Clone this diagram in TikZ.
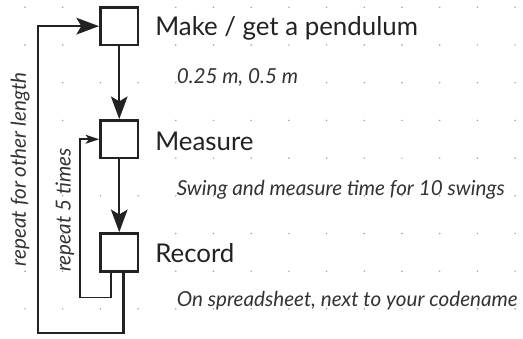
\documentclass[tikz,border=0pt]{standalone}
\usepackage{fontspec}
\setmainfont{Lato}
\usepackage{tikz}
\usetikzlibrary{arrows.meta,positioning}
\usepackage{xcolor}
\definecolor{inkdark}{HTML}{222222}
\definecolor{inknote}{HTML}{333333}
\definecolor{dotgrey}{HTML}{9A9AB4}
\tikzset{
  stepbox/.style  = {draw=inkdark, line width=2pt, rectangle, minimum size=1cm,
                     inner sep=0pt},
  steptext/.style = {inkdark, font=\fontsize{19.5}{23}\selectfont, anchor=base west,
                     inner sep=0pt},
  note/.style     = {inknote, font=\fontsize{15.6}{18}\selectfont\itshape, inner sep=0pt},
  flow/.style     = {-{Stealth[length=6mm,width=4.4mm,inset=1.3mm]}, line width=1.7pt, draw=inkdark},
  bigloop/.style  = {-{Stealth[length=6mm,width=4.4mm,inset=1.3mm]}, line width=1.7pt, draw=inkdark},
  smallloop/.style= {-{Stealth[length=3.6mm,width=2.4mm,inset=0.9mm]}, line width=1.3pt, draw=inkdark},
}

\begin{document}
\begin{tikzpicture}[x=1cm,y=1cm]
\useasboundingbox (-0.663,0.194) rectangle (13.21,-8.772);
% dot grid
\foreach \i in {0,...,13}
  \foreach \j in {0,...,8}
    \fill[dotgrey] (\i,-\j) circle (0.022);
% steps
\node[stepbox] (make)    at (2.5,-0.5) {};
\node[stepbox] (measure) at (2.5,-3.5) {};
\node[stepbox] (record)  at (2.5,-6.5) {};
\node[steptext] (maketxt)    at (3.45,-0.735) {Make / get a pendulum};
\node[steptext] (measuretxt) at (3.45,-3.79) {Measure};
\node[steptext] (recordtxt)  at (3.45,-6.78) {Record};
\node[note,anchor=base west] (makenote)    at (4.02,-2.01) {0.25 m, 0.5 m};
\node[note,anchor=base west] (measurenote) at (4.02,-4.98) {Swing and measure time for 10 swings};
\node[note,anchor=base west] (recordnote)  at (4.02,-7.94) {On spreadsheet, next to your codename};
% flow
\draw[flow] (make) -- (measure);
\draw[flow] (measure) -- (record);
% loops
\coordinate (outerturn) at (0.35,-8.64);
\coordinate (innerturn) at (1.46,-7.7);
\draw[bigloop] ([xshift=1.1mm]record.south) |- (outerturn) |- (make.west);
\draw[smallloop] ([xshift=-2.2mm]record.south) |- (innerturn) |- (measure.west);
\node[note,rotate=90] (outerlbl) at (-0.13,-4.3) {repeat for other length};
\node[note,rotate=90] (innerlbl) at (1.06,-5.38) {repeat 5 times};
\end{tikzpicture}
\end{document}
